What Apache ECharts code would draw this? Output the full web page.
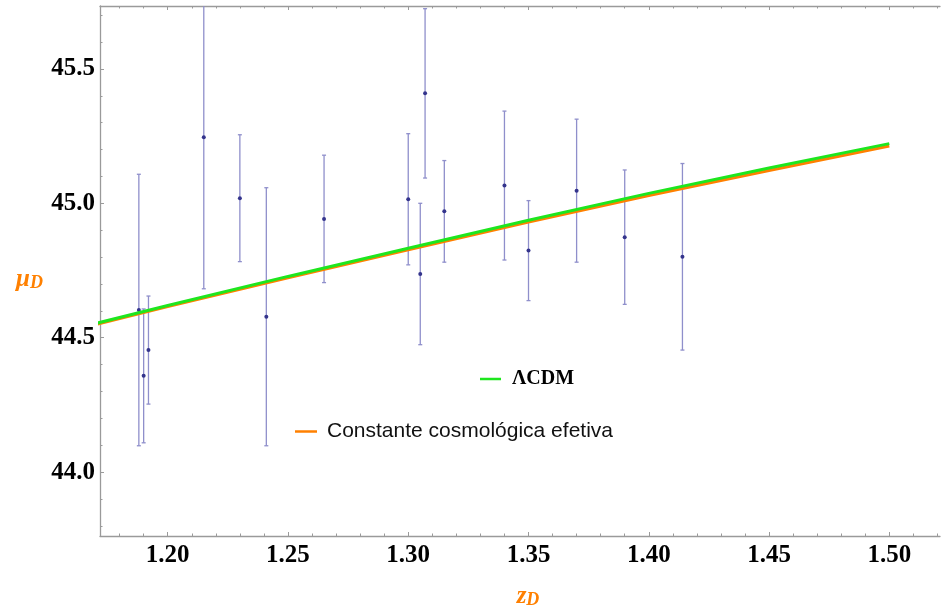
<!DOCTYPE html>
<html>
<head>
<meta charset="utf-8">
<title>mu_D vs z_D</title>
<script src="https://cdn.jsdelivr.net/npm/echarts@6/dist/echarts.min.js"></script>
<style>
  html, body { margin: 0; padding: 0; background: #fff; }
  #chart { width: 946px; height: 610px; }
</style>
</head>
<body>
<div id="chart"></div>
<script>
// pontos observados (z, mu, erro)
const zData  = [1.188, 1.190, 1.192, 1.215, 1.230, 1.241, 1.265, 1.300, 1.305, 1.307, 1.315, 1.340, 1.350, 1.370, 1.390, 1.414];
const muData = [44.603, 44.358, 44.454, 45.246, 45.019, 44.578, 44.942, 45.015, 44.737, 45.409, 44.970, 45.066, 44.824, 45.047, 44.874, 44.801];
const muErr  = [0.505, 0.249, 0.201, 0.564, 0.236, 0.480, 0.237, 0.244, 0.263, 0.315, 0.189, 0.277, 0.186, 0.266, 0.250, 0.347];

// curvas teóricas
const lineZ  = [1.17, 1.20, 1.25, 1.30, 1.35, 1.40, 1.45, 1.50];
const lcdmMu = [44.553, 44.620, 44.728, 44.833, 44.937, 45.037, 45.131, 45.222];
const effMu  = [44.549, 44.616, 44.723, 44.827, 44.930, 45.029, 45.122, 45.213];

// ticks
const xMajor = [1.20, 1.25, 1.30, 1.35, 1.40, 1.45, 1.50];
const xMinor = [1.18, 1.19, 1.21, 1.22, 1.23, 1.24, 1.26, 1.27, 1.28, 1.29, 1.31, 1.32, 1.33, 1.34,
                1.36, 1.37, 1.38, 1.39, 1.41, 1.42, 1.43, 1.44, 1.46, 1.47, 1.48, 1.49, 1.51, 1.52];
const yMajor = [44.0, 44.5, 45.0, 45.5];
const yMinor = [43.8, 43.9, 44.1, 44.2, 44.3, 44.4, 44.6, 44.7, 44.8, 44.9,
                45.1, 45.2, 45.3, 45.4, 45.6, 45.7];

const X_MIN = 1.17185, X_MAX = 1.52108;
const Y_MIN = 43.7623, Y_MAX = 45.734;

const frameColor = "#9a9a9a";
const orange = "#ff8000";
const green = "#1ee61e";

const chart = echarts.init(document.getElementById("chart"));

const nameRich = {
  v: { fontFamily: "Liberation Serif", fontStyle: "italic", fontWeight: "bold", fontSize: 25, color: orange, padding: [0, 0, 7, 0] },
  s: { fontFamily: "Liberation Serif", fontStyle: "italic", fontWeight: "bold", fontSize: 18, color: orange }
};

function tickAxis(pos, vals, len, extra) {
  return Object.assign({
    type: "value",
    position: pos,
    axisLine: { show: false },
    axisTick: { show: true, inside: true, length: len, customValues: vals, lineStyle: { color: frameColor, width: 1 } },
    axisLabel: { show: false },
    splitLine: { show: false }
  }, extra);
}

const xRange = { min: X_MIN, max: X_MAX };
const yRange = { min: Y_MIN, max: Y_MAX };

const option = {
  backgroundColor: "#ffffff",
  animation: false,
  grid: { left: 100, right: 6, top: 6, bottom: 74, containLabel: false, outerBoundsMode: "none" },
  legend: [
    {
      data: ["ΛCDM"],
      left: 480, top: 369, padding: 0,
      icon: "rect", itemWidth: 21, itemHeight: 2.5,
      textStyle: { fontFamily: "Liberation Serif", fontWeight: "bold", fontSize: 20, color: "#000", padding: [0, 0, 0, 6] }
    },
    {
      data: ["Constante cosmológica efetiva"],
      left: 295, top: 421, padding: 0,
      icon: "rect", itemWidth: 22, itemHeight: 2.5,
      textStyle: { fontFamily: "Liberation Sans", fontSize: 21, color: "#111", padding: [0, 0, 0, 5] }
    }
  ],
  xAxis: [
    Object.assign({
      type: "value",
      position: "bottom",
      name: "{v|z}{s|D}",
      nameLocation: "middle",
      nameGap: 48,
      nameTextStyle: { rich: nameRich, padding: [0, 0, 0, 16] },
      axisLine: { show: true, onZero: false, lineStyle: { color: frameColor, width: 1.3 } },
      axisTick: { show: true, inside: true, length: 4, customValues: xMajor, lineStyle: { color: frameColor, width: 1 } },
      axisLabel: {
        customValues: xMajor,
        formatter: v => v.toFixed(2),
        fontFamily: "Liberation Serif", fontWeight: "bold", fontSize: 25, color: "#000", margin: 7
      },
      splitLine: { show: false }
    }, xRange),
    tickAxis("bottom", xMinor, 2.5, xRange),
    Object.assign(tickAxis("top", xMajor, 4, xRange), {
      axisLine: { show: true, onZero: false, lineStyle: { color: frameColor, width: 1.3 } }
    }),
    tickAxis("top", xMinor, 2.5, xRange)
  ],
  yAxis: [
    Object.assign({
      type: "value",
      position: "left",
      name: "{v|μ}{s|D}",
      nameLocation: "middle",
      nameRotate: 0,
      nameGap: 57,
      nameTextStyle: { rich: nameRich, padding: [24, 0, 0, 0] },
      axisLine: { show: true, onZero: false, lineStyle: { color: frameColor, width: 1.3 } },
      axisTick: { show: true, inside: true, length: 4, customValues: yMajor, lineStyle: { color: frameColor, width: 1 } },
      axisLabel: {
        customValues: yMajor,
        formatter: v => v.toFixed(1),
        fontFamily: "Liberation Serif", fontWeight: "bold", fontSize: 25, color: "#000", margin: 5
      },
      splitLine: { show: false }
    }, yRange),
    tickAxis("left", yMinor, 2.5, yRange)
  ],
  series: [
    {
      name: "dados",
      type: "custom",
      clip: true,
      z: 2,
      data: zData.map((z, i) => [z, muData[i], muErr[i]]),
      renderItem: function (params, api) {
        const x = api.value(0), y = api.value(1), e = api.value(2);
        const top = api.coord([x, y + e]);
        const bot = api.coord([x, y - e]);
        const c = api.coord([x, y]);
        const barStyle = { stroke: "#8f8fcb", lineWidth: 1.3 };
        return {
          type: "group",
          children: [
            { type: "line", shape: { x1: top[0], y1: top[1], x2: bot[0], y2: bot[1] }, style: barStyle },
            { type: "line", shape: { x1: top[0] - 2, y1: top[1], x2: top[0] + 2, y2: top[1] }, style: barStyle },
            { type: "line", shape: { x1: bot[0] - 2, y1: bot[1], x2: bot[0] + 2, y2: bot[1] }, style: barStyle },
            { type: "circle", shape: { cx: c[0], cy: c[1], r: 2 }, style: { fill: "#34348c" } }
          ]
        };
      }
    },
    {
      name: "Constante cosmológica efetiva",
      type: "line",
      z: 3,
      showSymbol: false,
      symbol: "none",
      color: orange,
      lineStyle: { color: orange, width: 3 },
      data: lineZ.map((z, i) => [z, effMu[i]])
    },
    {
      name: "ΛCDM",
      type: "line",
      z: 4,
      showSymbol: false,
      symbol: "none",
      color: green,
      lineStyle: { color: green, width: 3 },
      data: lineZ.map((z, i) => [z, lcdmMu[i]])
    }
  ]
};

chart.setOption(option);
</script>
</body>
</html>
